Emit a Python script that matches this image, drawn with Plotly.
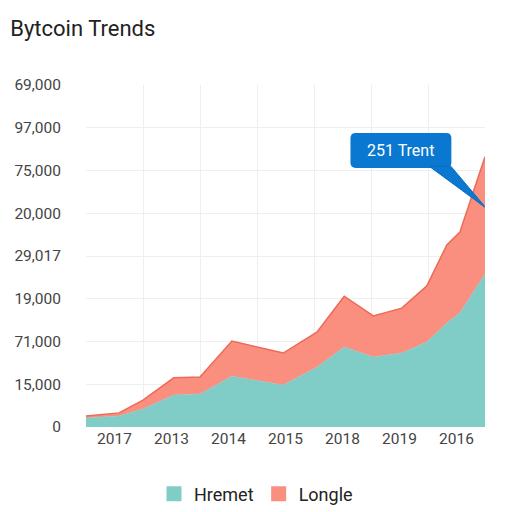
import plotly.graph_objects as go

# Data (x in category-band units, y in axis-step units)
x_pos = [0, 0.58, 1.0, 1.54, 2.0, 2.56, 3.46, 4.05, 4.53, 5.04, 5.54, 5.98, 6.33, 6.56, 7.0]
hremet = [0.21, 0.26, 0.42, 0.75, 0.77, 1.19, 0.98, 1.40, 1.87, 1.64, 1.73, 1.99, 2.43, 2.67, 3.58]
longle = [0.05, 0.07, 0.21, 0.40, 0.40, 0.82, 0.75, 0.82, 1.19, 0.96, 1.05, 1.31, 1.83, 1.89, 2.74]

x_labels = ["2017", "2013", "2014", "2015", "2018", "2019", "2016"]
y_labels = ["0", "15,000", "71,000", "19,000", "29,017", "20,000", "75,000", "97,000", "69,000"]
series_names = ["Hremet", "Longle"]

TEAL = "#80cdc8"
SALMON = "#fa8f7f"

fig = go.Figure()
fig.add_trace(go.Scatter(x=x_pos, y=hremet, name=series_names[0], mode="lines",
                         stackgroup="one", line=dict(color=TEAL, width=0.5),
                         fillcolor=TEAL, showlegend=False))
fig.add_trace(go.Scatter(x=x_pos, y=longle, name=series_names[1], mode="lines",
                         stackgroup="one", line=dict(color="#ec6a58", width=1.5),
                         fillcolor=SALMON, showlegend=False))
# legend entries with square swatches
for nm, col in zip(series_names, [TEAL, SALMON]):
    fig.add_trace(go.Scatter(x=[None], y=[None], name=nm, mode="markers",
                             marker=dict(symbol="square", size=15, color=col)))

# callout box (rounded) and pointer
bx0, bx1 = 4.64, 6.41
by0, by1 = 6.06, 6.88
rx, ry = 0.09, 0.12
box_path = (f"M {bx0+rx},{by0} L {bx1-rx},{by0} Q {bx1},{by0} {bx1},{by0+ry} "
            f"L {bx1},{by1-ry} Q {bx1},{by1} {bx1-rx},{by1} L {bx0+rx},{by1} "
            f"Q {bx0},{by1} {bx0},{by1-ry} L {bx0},{by0+ry} Q {bx0},{by0} {bx0+rx},{by0} Z")
fig.add_shape(type="path", path=box_path, xref="x", yref="y",
              fillcolor="#0a78d0", line=dict(width=0), layer="above")
fig.add_shape(type="path", path="M 6.02,6.1 L 6.40,6.1 L 7.02,5.12 Z", xref="x", yref="y",
              fillcolor="#0a78d0", line=dict(color="#0a6cbc", width=1), layer="above")
fig.add_annotation(x=(bx0+bx1)/2, y=(by0+by1)/2, xref="x", yref="y", text="251 Trent",
                   showarrow=False, font=dict(color="white", size=16, family="Roboto"))

fig.update_layout(
    width=512, height=512,
    margin=dict(l=86, r=27, t=85, b=85, autoexpand=False),
    paper_bgcolor="white", plot_bgcolor="white",
    font=dict(family="Roboto", color="#444", size=15),
    title=dict(text="Bytcoin Trends", x=0.02, xanchor="left", y=0.945, yanchor="middle",
               font=dict(size=22, color="#222", family="Roboto")),
    showlegend=True,
    legend=dict(orientation="h", xref="container", x=0.5, xanchor="center",
                y=-0.196, yanchor="middle",
                font=dict(size=18, color="#222"), traceorder="normal",
                itemwidth=30, tracegroupgap=0),
    xaxis=dict(range=[0, 7], tickvals=[i + 0.5 for i in range(7)], ticktext=x_labels,
               showgrid=False, zeroline=False, showline=False, ticks="",
               minor=dict(tick0=0, dtick=1, showgrid=True, gridcolor="#efefef", gridwidth=1),
               tickfont=dict(size=15.5, color="#444")),
    yaxis=dict(range=[0, 8], tickvals=list(range(9)), ticktext=y_labels,
               showgrid=True, gridcolor="#efefef", zeroline=False, showline=False,
               ticklabelstandoff=24, tickfont=dict(size=15.5, color="#444")),
)

fig.write_html("out.html")
